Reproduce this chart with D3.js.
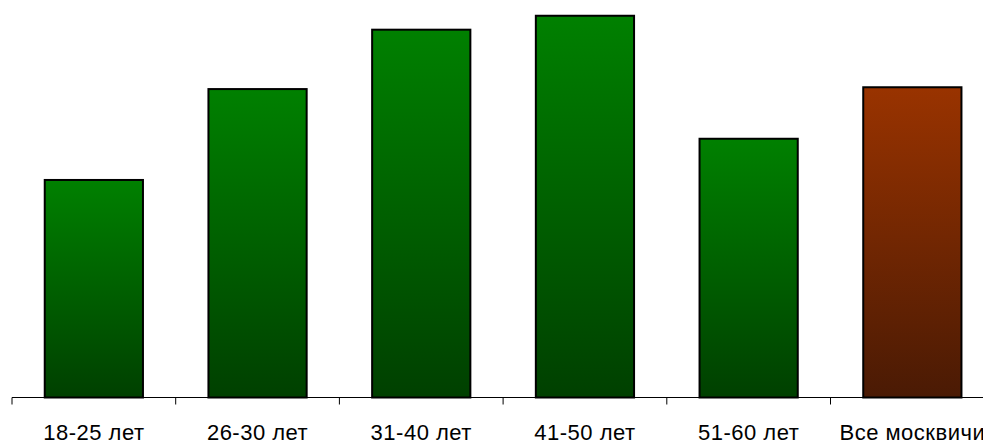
<!DOCTYPE html>
<html>
<head>
<meta charset="utf-8">
<script src="https://cdn.jsdelivr.net/npm/d3@7"></script>
<style>
  html, body { margin: 0; padding: 0; background: #fff; }
  svg { display: block; }
</style>
</head>
<body>
<svg id="chart" width="983" height="444"></svg>
<script>
// Age groups and share per group (last bar: all Muscovites)
const categories = ["18-25 лет", "26-30 лет", "31-40 лет", "41-50 лет", "51-60 лет", "Все москвичи"];
const values = [35.9, 50.9, 60.7, 63, 42.7, 51.2];
const highlight = [false, false, false, false, false, true];

const svg = d3.select("#chart");
const W = 983, H = 444;
const left = 12, bandW = 163.7, baseY = 397.5;

const x = d3.scaleBand()
  .domain(categories)
  .range([left, left + bandW * categories.length])
  .paddingInner(0.4)
  .paddingOuter(0.2);

const y = d3.scaleLinear().domain([0, 65.6]).range([baseY, 0]);

const defs = svg.append("defs");
function grad(id, top, bottom) {
  const g = defs.append("linearGradient").attr("id", id)
    .attr("x1", 0).attr("y1", 0).attr("x2", 0).attr("y2", 1);
  g.append("stop").attr("offset", "0%").attr("stop-color", top);
  g.append("stop").attr("offset", "100%").attr("stop-color", bottom);
}
grad("gGreen", "#008000", "#004000");
grad("gBrown", "#993300", "#4a1a04");

svg.selectAll("rect.bar")
  .data(categories)
  .join("rect")
  .attr("class", "bar")
  .attr("x", d => x(d))
  .attr("width", x.bandwidth())
  .attr("y", (d, i) => y(values[i]))
  .attr("height", (d, i) => baseY - y(values[i]))
  .attr("fill", (d, i) => highlight[i] ? "url(#gBrown)" : "url(#gGreen)")
  .attr("stroke", "#000")
  .attr("stroke-width", 2);

// Category axis: ticks sit on the band boundaries
const axisG = svg.append("g");
const boundaries = d3.range(categories.length + 1).map(i => left + i * bandW);
axisG.append("line")
  .attr("x1", left).attr("x2", W + 20)
  .attr("y1", baseY).attr("y2", baseY)
  .attr("stroke", "#000").attr("stroke-width", 1);
axisG.selectAll("line.tick")
  .data(boundaries)
  .join("line")
  .attr("class", "tick")
  .attr("x1", d => d).attr("x2", d => d)
  .attr("y1", baseY).attr("y2", baseY + 7)
  .attr("stroke", "#000").attr("stroke-width", 1);

axisG.selectAll("text")
  .data(categories)
  .join("text")
  .attr("x", d => x(d) + x.bandwidth() / 2)
  .attr("y", 440)
  .attr("text-anchor", "middle")
  .attr("font-family", "'Liberation Sans', Arial, sans-serif")
  .attr("font-size", 22)
  .attr("letter-spacing", 0.5)
  .attr("fill", "#000")
  .text(d => d);
</script>
</body>
</html>
